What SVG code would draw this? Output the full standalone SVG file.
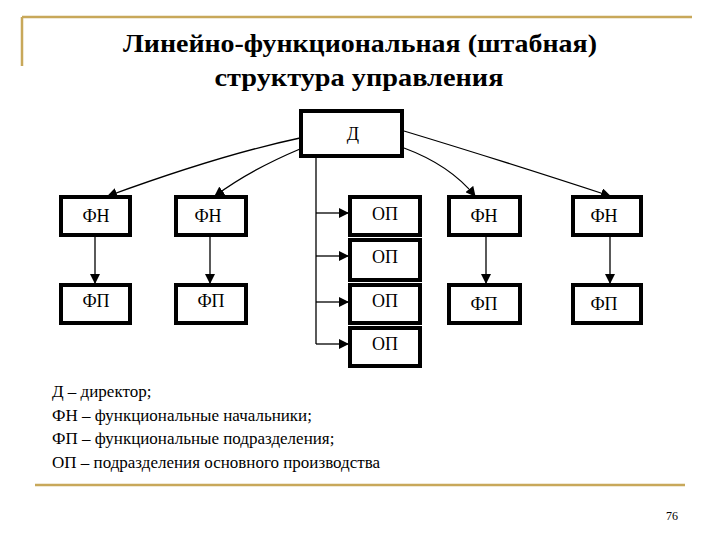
<svg xmlns="http://www.w3.org/2000/svg" width="720" height="540" viewBox="0 0 720 540">
<defs>
<style>
text{font-family:"Liberation Serif","Times New Roman","DejaVu Serif",serif}
.b{fill:#fff;stroke:#000;stroke-width:4}
.t{font-size:18px;fill:#000;text-anchor:middle}
.c{stroke:#000;stroke-width:1.3;fill:none}
.l{font-size:17px;fill:#000}
</style>
<marker id="a" markerWidth="10" markerHeight="10" refX="9" refY="5" orient="auto" markerUnits="userSpaceOnUse"><path d="M0,0 L10,5 L0,10 Z" fill="#000"/></marker>
</defs>
<rect width="720" height="540" fill="#fff"/>
<path d="M22,17 H692 M22,17 V66 M35,485 H685" stroke="#c8a85a" stroke-width="2.5" fill="none"/>
<text x="360" y="52" font-size="26" font-weight="bold" text-anchor="middle" textLength="474" lengthAdjust="spacingAndGlyphs">Линейно-функциональная (штабная)</text>
<text x="359" y="86" font-size="26" font-weight="bold" text-anchor="middle" textLength="289" lengthAdjust="spacingAndGlyphs">структура управления</text>
<g id="connectors">
<path class="c" d="M300,138 Q220,155 108,196" marker-end="url(#a)"/>
<path class="c" d="M300,149 Q250,170 215,196" marker-end="url(#a)"/>
<path class="c" d="M404,131 Q500,160 610,196" marker-end="url(#a)"/>
<path class="c" d="M404,148 Q450,165 475,196" marker-end="url(#a)"/>
<path class="c" d="M316,156 V344"/>
<path class="c" d="M316,213 H348" marker-end="url(#a)"/>
<path class="c" d="M316,256 H348" marker-end="url(#a)"/>
<path class="c" d="M316,302 H348" marker-end="url(#a)"/>
<path class="c" d="M316,344 H348" marker-end="url(#a)"/>
<path class="c" d="M95,235 V283" marker-end="url(#a)"/>
<path class="c" d="M210,235 V283" marker-end="url(#a)"/>
<path class="c" d="M486,235 V283" marker-end="url(#a)"/>
<path class="c" d="M610,235 V283" marker-end="url(#a)"/>
</g>
<g id="d"><rect class="b" x="301" y="111" width="101" height="45"/><text class="t" x="353" y="140">Д</text></g>
<g id="fn1"><rect class="b" x="61" y="197" width="69" height="38"/><text class="t" x="96" y="222">ФН</text></g>
<g id="fn2"><rect class="b" x="176" y="197" width="70" height="38"/><text class="t" x="208" y="222">ФН</text></g>
<g id="fn3"><rect class="b" x="449" y="197" width="71" height="38"/><text class="t" x="484" y="222">ФН</text></g>
<g id="fn4"><rect class="b" x="573" y="197" width="68" height="38"/><text class="t" x="604" y="222">ФН</text></g>
<g id="fp1"><rect class="b" x="61" y="285" width="69" height="38"/><text class="t" x="96" y="307">ФП</text></g>
<g id="fp2"><rect class="b" x="176" y="285" width="70" height="38"/><text class="t" x="211" y="307">ФП</text></g>
<g id="fp3"><rect class="b" x="449" y="285" width="71" height="38"/><text class="t" x="484" y="310">ФП</text></g>
<g id="fp4"><rect class="b" x="573" y="285" width="68" height="38"/><text class="t" x="604" y="310">ФП</text></g>
<g id="op1"><rect class="b" x="350" y="197" width="70" height="38"/><text class="t" x="385" y="220">ОП</text></g>
<g id="op2"><rect class="b" x="350" y="240" width="70" height="40"/><text class="t" x="385" y="263">ОП</text></g>
<g id="op3"><rect class="b" x="350" y="285" width="70" height="38"/><text class="t" x="385" y="307">ОП</text></g>
<g id="op4"><rect class="b" x="350" y="328" width="70" height="38"/><text class="t" x="385" y="350">ОП</text></g>
<text class="l" x="52" y="397">Д – директор;</text>
<text class="l" x="52" y="421">ФН – функциональные начальники;</text>
<text class="l" x="52" y="444">ФП – функциональные подразделения;</text>
<text class="l" x="52" y="468">ОП – подразделения основного производства</text>
<text x="672" y="520" font-size="12" text-anchor="middle">76</text>
</svg>
